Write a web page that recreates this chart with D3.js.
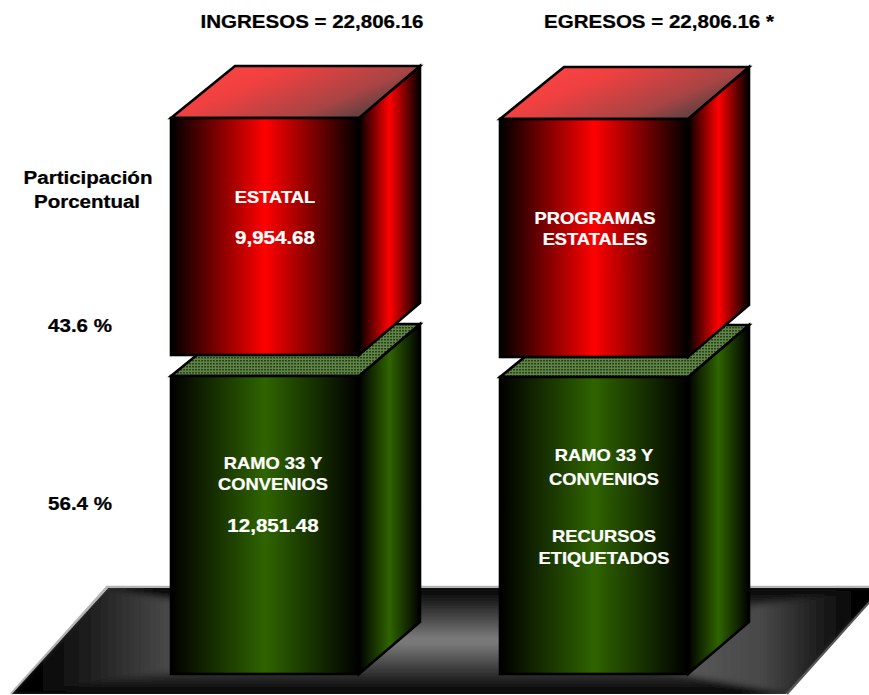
<!DOCTYPE html>
<html>
<head>
<meta charset="utf-8">
<script src="https://cdnjs.cloudflare.com/ajax/libs/d3/7.8.5/d3.min.js"></script>
<style>
  html, body { margin: 0; background: #fff; }
  text { font-family: "Liberation Sans", Arial, sans-serif; font-weight: bold; }
</style>
</head>
<body>
<div id="chart"></div>
<script>
const columns = ["INGRESOS", "EGRESOS"];
const headers = ["INGRESOS = 22,806.16", "EGRESOS = 22,806.16 *"];
const greenValues = [12851.48, 12851.48];
const redValues = [9954.68, 9954.68];
const shares = ["43.6 %", "56.4 %"];
const sideTitle = ["Participación", "Porcentual"];
const redLabels = [["ESTATAL", "9,954.68"], ["PROGRAMAS", "ESTATALES"]];
const greenLabels = [
  ["RAMO 33 Y", "CONVENIOS", "12,851.48"],
  ["RAMO 33 Y", "CONVENIOS", "RECURSOS", "ETIQUETADOS"]
];

const width = 869;
const height = 695;
const depth = { x: 61, y: 52 };

const svg = d3.select("#chart").append("svg")
  .attr("width", width)
  .attr("height", height)
  .style("display", "block");
const defs = svg.append("defs");

function gradient(id, stops, x1, y1, x2, y2, user) {
  const g = defs.append("linearGradient").attr("id", id)
    .attr("x1", x1).attr("y1", y1).attr("x2", x2).attr("y2", y2);
  if (user) g.attr("gradientUnits", "userSpaceOnUse");
  stops.forEach(s => g.append("stop").attr("offset", s[0]).attr("stop-color", s[1]));
}

const redStops = [[0, "#000"], [0.5, "#ff0000"], [1, "#000"]];
const greenStops = [[0, "#000"], [0.5, "#2f6400"], [1, "#000"]];
gradient("redFace", redStops, 0, 0, 1, 0);
gradient("greenFace", greenStops, 0, 0, 1, 0);
gradient("redTopFill", [[0, "#ff4545"], [0.4, "#f04040"], [0.8, "#a84444"], [1, "#5e4040"]], 0, 0, 1, 0.5);

const dots = defs.append("pattern").attr("id", "greenDots")
  .attr("width", 3).attr("height", 3).attr("patternUnits", "userSpaceOnUse");
dots.append("rect").attr("width", 3).attr("height", 3).attr("fill", "#5f8545");
dots.append("rect").attr("width", 2).attr("height", 1.5).attr("fill", "#2a3f1f");

// floor plate, rectangular gradient done with trapezoids round a centre bar
const plate = { tl: [108, 588], tr: [882, 588], br: [786, 694], bl: [12, 694], cl: [395, 641], cr: [505, 641] };
gradient("floorTop", [[0, "#000"], [1, "#808080"]], 0, 588, 0, 641, true);
gradient("floorBottom", [[0, "#808080"], [1, "#000"]], 0, 641, 0, 694, true);
gradient("floorLeft", [[0, "#000"], [0.38, "#484848"], [1, "#808080"]], 30, 0, 395, 0, true);
gradient("floorRight", [[0, "#808080"], [0.72, "#484848"], [1, "#000"]], 505, 0, 860, 0, true);

const poly = pts => pts.map(p => p.join(",")).join(" ");
const plateCorners = [plate.tl, plate.tr, plate.br, plate.bl];

// soften the seams between the floor pieces, keep the plate edge sharp
defs.append("filter").attr("id", "floorBlur")
  .attr("filterUnits", "userSpaceOnUse")
  .attr("x", 0).attr("y", 560).attr("width", 900).attr("height", 160)
  .append("feGaussianBlur").attr("stdDeviation", 3);
defs.append("clipPath").attr("id", "floorClip")
  .append("polygon").attr("points", poly(plateCorners));

svg.append("polyline")
  .attr("points", poly([[plate.bl[0] - 1, plate.bl[1]], [plate.tl[0] - 1, plate.tl[1] - 1], [plate.tr[0], plate.tr[1] - 1]]))
  .attr("fill", "none").attr("stroke", "#b4b4b4").attr("stroke-width", 2.5);

const floor = svg.append("g").attr("clip-path", "url(#floorClip)")
  .append("g").attr("filter", "url(#floorBlur)");
floor.append("polygon").attr("points", poly(plateCorners)).attr("fill", "#000")
  .attr("stroke", "#000").attr("stroke-width", 8);
[
  [[plate.tl, plate.tr, plate.cr, plate.cl], "floorTop"],
  [[plate.tr, plate.br, plate.cr], "floorRight"],
  [[plate.br, plate.bl, plate.cl, plate.cr], "floorBottom"],
  [[plate.bl, plate.tl, plate.cl], "floorLeft"]
].forEach(t => {
  floor.append("polygon").attr("points", poly(t[0]))
    .attr("fill", `url(#${t[1]})`).attr("stroke", `url(#${t[1]})`).attr("stroke-width", 0.5);
});
svg.append("line")
  .attr("x1", plate.br[0] + 1).attr("y1", plate.br[1]).attr("x2", plate.tr[0]).attr("y2", plate.tr[1])
  .attr("stroke", "#555").attr("stroke-width", 2);

const x = d3.scaleBand().domain(columns).range([171, 688]).paddingInner(0.4286).paddingOuter(0);

// each block has its own pixel span, the two columns differ slightly
const yGreen = [
  d3.scaleLinear().domain([0, greenValues[0]]).range([674, 376]),
  d3.scaleLinear().domain([0, greenValues[1]]).range([674, 377])
];
const yRed = [
  d3.scaleLinear().domain([0, redValues[0]]).range([355, 118]),
  d3.scaleLinear().domain([0, redValues[1]]).range([357, 119])
];

function drawBlock(g, x0, yBottom, yTop, face, topFill) {
  const w = x.bandwidth();
  const x1 = x0 + w;
  const stroke = s => s.attr("stroke", "#000").attr("stroke-width", 2.6).attr("stroke-linejoin", "miter");
  g.append("polygon")
    .attr("points", poly([[x1, yTop], [x1 + depth.x, yTop - depth.y], [x1 + depth.x, yBottom - depth.y], [x1, yBottom]]))
    .attr("fill", `url(#${face})`).call(stroke);
  g.append("polygon")
    .attr("points", poly([[x0, yTop], [x0 + depth.x + 3, yTop - depth.y], [x1 + depth.x, yTop - depth.y], [x1, yTop]]))
    .attr("fill", topFill).call(stroke);
  g.append("rect")
    .attr("x", x0).attr("y", yTop).attr("width", w).attr("height", yBottom - yTop)
    .attr("fill", `url(#${face})`).call(stroke);
}

columns.forEach((c, i) => {
  const g = svg.append("g");
  drawBlock(g, x(c), yGreen[i](0), yGreen[i](greenValues[i]), "greenFace", "url(#greenDots)");
  drawBlock(g, x(c), yRed[i](0), yRed[i](redValues[i]), "redFace", "url(#redTopFill)");
});

// the source text is stretched sideways
function label(str, cx, y, size, fill) {
  svg.append("text")
    .attr("transform", `translate(${cx},${y}) scale(1.11,1)`)
    .attr("text-anchor", "middle")
    .attr("font-size", size).attr("fill", fill)
    .attr("stroke", fill).attr("stroke-width", 0.25)
    .text(str);
}

label(headers[0], 312, 28, 18.5, "#000");
label(headers[1], 659, 28, 18.5, "#000");
label(sideTitle[0], 88, 184, 18.5, "#000");
label(sideTitle[1], 87, 208, 18.5, "#000");
label(shares[0], 80, 332, 18.5, "#000");
label(shares[1], 80, 510, 18.5, "#000");

const redY = [[203, 244], [224, 245]];
const redX = [275, 595];
redLabels.forEach((lines, i) => lines.forEach((s, j) => {
  label(s, redX[i], redY[i][j], i === 0 && j === 1 ? 18.5 : 16.5, "#fff");
}));
const greenY = [[469, 490, 532], [461, 485, 542, 564]];
const greenX = [273, 604];
greenLabels.forEach((lines, i) => lines.forEach((s, j) => {
  label(s, greenX[i], greenY[i][j], i === 0 && j === 2 ? 18.5 : 16.5, "#fff");
}));
</script>
</body>
</html>
